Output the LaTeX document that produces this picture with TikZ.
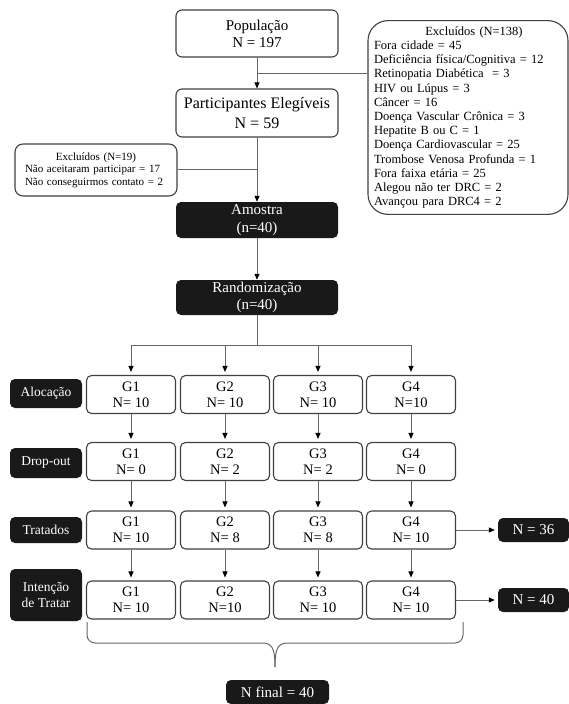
\documentclass[tikz,border=0pt]{standalone}
\usepackage{fontspec}
\setmainfont{Liberation Serif}
\usetikzlibrary{arrows.meta}

\begin{document}
\begin{tikzpicture}[x=1pt,y=-1pt,
  stage/.style={draw=black!75,line width=1.1pt,rounded corners=6pt,fill=white,align=center,minimum width=162pt,inner sep=2pt},
  dark/.style={fill=black!90,rounded corners=5pt,text=white,align=center,inner sep=2pt},
  grp/.style={draw=black!75,line width=1.1pt,rounded corners=5pt,fill=white,align=center,minimum width=89pt,minimum height=38pt,inner sep=1pt,font=\fontsize{14.5}{16}\selectfont},
  phase/.style={dark,minimum width=72pt,font=\fontsize{13.5}{16.5}\selectfont},
  total/.style={dark,minimum height=24pt,font=\fontsize{15}{17}\selectfont},
  excl/.style={draw=black!75,line width=1.1pt,fill=white,align=left},
  flow/.style={-{Triangle[length=6pt,width=5pt,color=black]},black!60,line width=1pt},
  link/.style={black!60,line width=1pt}
]
  \useasboundingbox (0,0) rectangle (569,704);

  % recruitment
  \node[stage,minimum height=47pt,font=\fontsize{15}{17}\selectfont] (pop) at (257,33.5) {População\\N = 197};
  \node[stage,minimum height=48pt,font=\fontsize{16}{20}\selectfont] (eleg) at (257,113) {Participantes Elegíveis\\N = 59};
  \node[dark,minimum width=162pt,minimum height=36pt,font=\fontsize{15}{18}\selectfont] (amostra) at (257,220) {Amostra\\(n=40)};
  \node[dark,minimum width=162pt,minimum height=35pt,font=\fontsize{15}{17}\selectfont] (rand) at (257,297.5) {Randomização\\(n=40)};

  \node[excl,rounded corners=20pt,text width=188pt,inner sep=6pt,minimum height=189pt,
        font=\fontsize{12.5}{14.2}\selectfont] (excl1) at (468,117.5) {
    \makebox[188pt]{\hspace{12pt}Excluídos (N=138)}\\
    Fora cidade = 45\\
    Deficiência física/Cognitiva = 12\\
    Retinopatia Diabética \ = 3\\
    HIV ou Lúpus = 3\\
    Câncer = 16\\
    Doença Vascular Crônica = 3\\
    Hepatite B ou C = 1\\
    Doença Cardiovascular = 25\\
    Trombose Venosa Profunda = 1\\
    Fora faixa etária = 25\\
    Alegou não ter DRC = 2\\
    Avançou para DRC4 = 2};
  \node[excl,rounded corners=8pt,text width=142pt,inner xsep=10pt,inner ysep=3pt,minimum height=52pt,
        font=\fontsize{11}{12.5}\selectfont] (excl2) at (96,170) {
    \makebox[142pt]{Excluídos (N=19)}\\
    Não aceitaram participar = 17\\
    Não conseguirmos contato = 2};

  \coordinate (j1) at (257,73);
  \coordinate (j2) at (257,169);
  \coordinate (split) at (257,345);
  \draw[flow] (pop) -- (eleg);
  \draw[link] (excl1.west |- j1) -- (j1);
  \draw[flow] (eleg) -- (amostra);
  \draw[link] (excl2.east |- j2) -- (j2);
  \draw[flow] (amostra) -- (rand);
  \draw[link] (rand) -- (split);

  % phases
  \node[phase,minimum height=29pt] (aloc) at (46,393.5) {Alocação};
  \node[phase,minimum height=30pt] (drop) at (46,463) {Drop-out};
  \node[phase,minimum height=26pt] (trat) at (46,530) {Tratados};
  \node[phase,minimum height=52pt] (itt) at (46,595) {Intenção\\de Tratar};

  % groups
  \node[grp] (g11) at (131,394.5) {G1\\N= 10};
  \node[grp] (g12) at (225,394.5) {G2\\N= 10};
  \node[grp] (g13) at (318,394.5) {G3\\N= 10};
  \node[grp] (g14) at (411,394.5) {G4\\N=10};
  \node[grp] (g21) at (131,461.5) {G1\\N= 0};
  \node[grp] (g22) at (225,461.5) {G2\\N= 2};
  \node[grp] (g23) at (318,461.5) {G3\\N= 2};
  \node[grp] (g24) at (411,461.5) {G4\\N= 0};
  \node[grp] (g31) at (131,530) {G1\\N= 10};
  \node[grp] (g32) at (225,530) {G2\\N= 8};
  \node[grp] (g33) at (318,530) {G3\\N= 8};
  \node[grp] (g34) at (411,530) {G4\\N= 10};
  \node[grp] (g41) at (131,600) {G1\\N= 10};
  \node[grp] (g42) at (225,600) {G2\\N=10};
  \node[grp] (g43) at (318,600) {G3\\N= 10};
  \node[grp] (g44) at (411,600) {G4\\N= 10};

  \node[total,minimum width=71pt] (n36) at (533.5,530) {N = 36};
  \node[total,minimum width=71pt] (n40) at (533.5,600) {N = 40};
  \node[total,minimum width=103pt] (nfinal) at (277.5,692) {N final = 40};

  \draw[link] (split -| g11) -- (split -| g14);
  \draw[flow,shorten >=3pt] (split -| g11) -- (g11);
  \draw[flow,shorten >=3pt] (split -| g12) -- (g12);
  \draw[flow,shorten >=3pt] (split -| g13) -- (g13);
  \draw[flow,shorten >=3pt] (split -| g14) -- (g14);
  \draw[flow,shorten >=3pt] (g11) -- (g21); \draw[flow,shorten >=3pt] (g12) -- (g22);
  \draw[flow,shorten >=3pt] (g13) -- (g23); \draw[flow,shorten >=3pt] (g14) -- (g24);
  \draw[flow,shorten >=3pt] (g21) -- (g31); \draw[flow,shorten >=3pt] (g22) -- (g32);
  \draw[flow,shorten >=3pt] (g23) -- (g33); \draw[flow,shorten >=3pt] (g24) -- (g34);
  \draw[flow,shorten >=3pt] (g31) -- (g41); \draw[flow,shorten >=3pt] (g32) -- (g42);
  \draw[flow,shorten >=3pt] (g33) -- (g43); \draw[flow,shorten >=3pt] (g34) -- (g44);
  \draw[flow,shorten >=3pt] (g34) -- (n36);
  \draw[flow,shorten >=3pt] (g44) -- (n40);

  % brace under the groups
  \draw[link,rounded corners=8pt] (87,622) -- (87,643) -- (262,643);
  \draw[link] (262,643) .. controls (272,643) and (275,648) .. (275,667);
  \draw[link] (288,643) .. controls (278,643) and (275,648) .. (275,667);
  \draw[link,rounded corners=8pt] (288,643) -- (463,643) -- (463,622);
\end{tikzpicture}
\end{document}
